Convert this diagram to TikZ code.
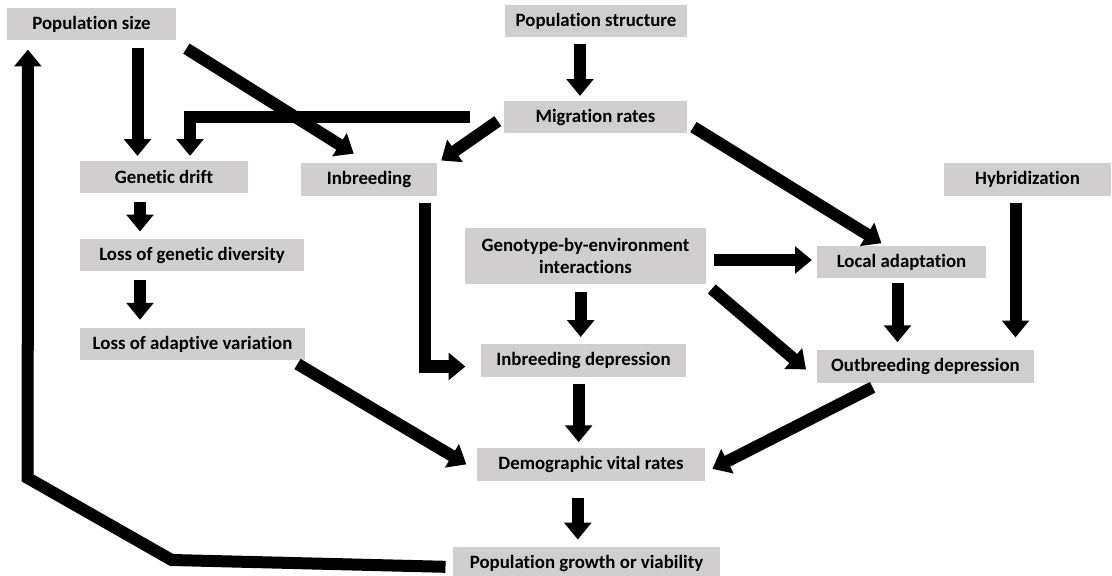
\documentclass[tikz,border=0pt]{standalone}
\usepackage{fontspec}
\setmainfont{Carlito}[Ligatures=NoCommon]
\usetikzlibrary{arrows.meta}
\definecolor{boxgrey}{HTML}{D0CECE}

\begin{document}
\begin{tikzpicture}[x=0.025cm,y=-0.025cm,
    fat/.style={line width=0.3cm,-{Triangle[width=0.66cm,length=0.42cm]},shorten <=0.18cm,shorten >=0.12cm}]
\useasboundingbox (0,0) rectangle (1112,576);
\begin{scope}[every node/.style={fill=boxgrey,font=\bfseries\fontsize{13.4}{15.5}\selectfont,minimum height=0.8cm,inner sep=0pt,align=center}]
    \node[minimum width=4.225cm] (psize) at (91.5,24.5){Population size};
    \node[minimum width=4.55cm] (pstruct) at (596,21){Population structure};
    \node[minimum width=4.575cm] (migr) at (595.5,117){Migration rates};
    \node[minimum width=4.2cm] (drift) at (164,177){Genetic drift};
    \node[minimum width=3.4cm] (inbr) at (369,179.5){Inbreeding};
    \node[minimum width=4.175cm] (hybr) at (1027.5,179.5){Hybridization};
    \node[minimum width=6.025cm,minimum height=1.4cm] (gxe) at (585.5,256){Genotype-by-environment\\interactions};
    \node[minimum width=4.225cm] (local) at (901.5,262){Local adaptation};
    \node[minimum width=5.6cm] (lgd) at (192,255){Loss of genetic diversity};
    \node[minimum width=5.625cm] (lav) at (192.5,344){Loss of adaptive variation};
    \node[minimum width=5.125cm] (inbd) at (583.5,360.5){Inbreeding depression};
    \node[minimum width=5.425cm] (outd) at (925.5,366.5){Outbreeding depression};
    \node[minimum width=5.7cm] (demo) at (591,464.5){Demographic vital rates};
    \node[minimum width=6.675cm] (growth) at (586.5,563){Population growth or viability};
\end{scope}

    \path [fat] ([xshift=1.15cm]psize.south) edge ([xshift=1.15cm]psize.south |- drift.north);
    \path [fat,shorten >=0.45cm] ([shift={(0.1cm,-0.1cm)}]psize.south east) edge (inbr.north);
    \path [fat] ([xshift=-0.4cm]pstruct.south) edge ([xshift=-0.4cm]pstruct.south |- migr.north);

    \draw [fat,shorten <=0.85cm] (migr.west) -| ([xshift=0.65cm]drift.north);
    \path [fat] (migr.west) edge (inbr.north east);
    \path [fat] ([yshift=0.25cm]migr.south east) edge ([xshift=-0.4cm]local.north);

    \path [fat,shorten <=0.22cm,shorten >=0.18cm] ([xshift=-0.6cm]drift.south) edge ([xshift=-0.6cm]drift.south |- lgd.north);
    \path [fat,shorten <=0.22cm,shorten >=0.2cm] ([xshift=-1.3cm]lgd.south) edge ([xshift=-1.3cm]lgd.south |- lav.north);

    \draw [fat,shorten >=0.38cm] ([xshift=1.4cm]inbr.south) |- ([yshift=-0.15cm]inbd.west);

    \path [fat] ([yshift=-0.1cm]gxe.east) edge ([yshift=-0.1cm]gxe.east -| local.west);
    \path [fat,shorten <=0.2cm,shorten >=0.18cm] ([xshift=-0.12cm]gxe.south) edge ([xshift=-0.12cm]gxe.south |- inbd.north);
    \path [fat,shorten >=0.35cm] (gxe.south east) edge ([yshift=-0.3cm]outd.west);

    \path [fat,shorten <=0.12cm,shorten >=0.2cm] ([xshift=-0.1cm]local.south) edge ([xshift=-0.1cm]local.south |- outd.north);
    \path [fat,shorten >=0.32cm] ([xshift=-0.3cm]hybr.south) edge ([xshift=-0.3cm]hybr.south |- outd.north);

    \path [fat,shorten >=0.3cm] ([xshift=-0.35cm]lav.south east) edge ([yshift=-0.15cm]demo.west);
    \path [fat,shorten >=0.15cm] ([xshift=-0.12cm]inbd.south) edge ([xshift=-0.12cm]inbd.south |- demo.north);
    \path [fat,shorten <=0.25cm,shorten >=0.2cm] ([xshift=-1.1cm]outd.south) edge ([yshift=-0.2cm]demo.east);

    \path [fat,shorten <=0.42cm,shorten >=0.18cm] ([xshift=-0.33cm]demo.south) edge ([xshift=-0.33cm]demo.south |- growth.north);
    \draw [fat,shorten >=0.22cm] ([yshift=-0.1cm]growth.west) -- ++(-281,-7) -- ++(-144,-82) -- ([xshift=0.53cm]psize.south west);

\end{tikzpicture}
\end{document}
